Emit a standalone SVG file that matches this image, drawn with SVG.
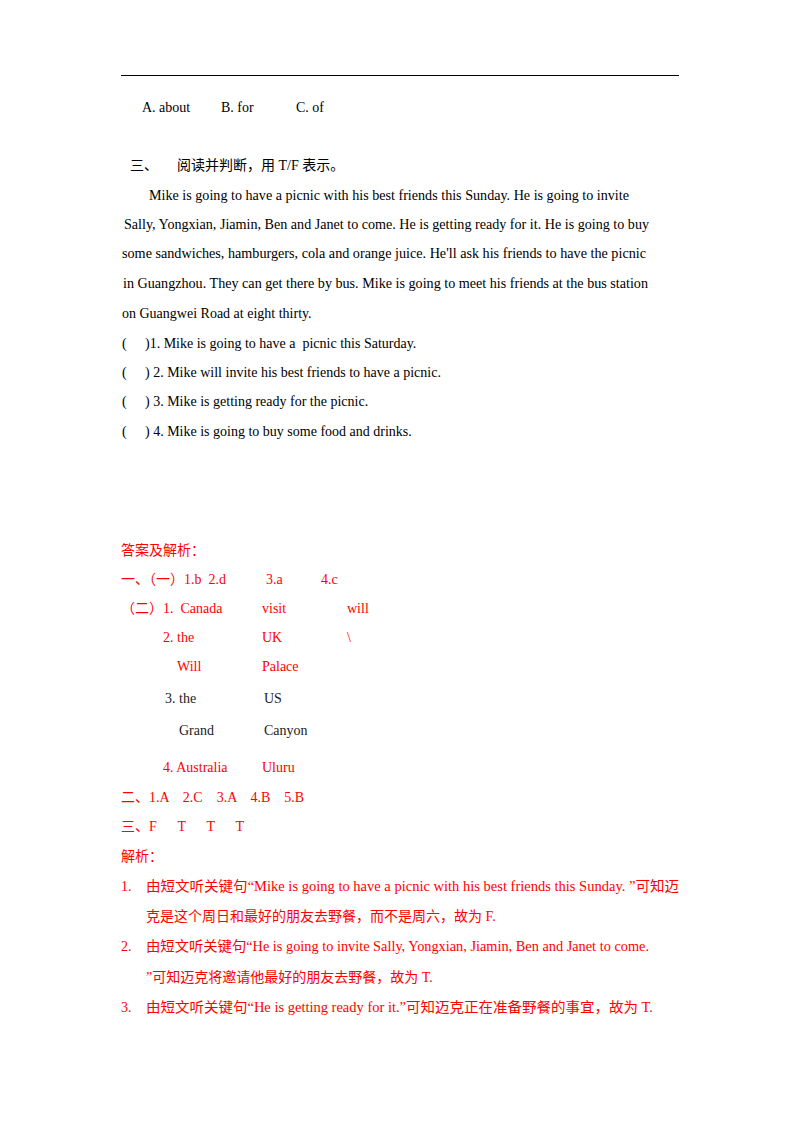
<svg xmlns="http://www.w3.org/2000/svg" width="800" height="1132" viewBox="0 0 800 1132" xml:space="preserve">
<style>
text{font-family:"Liberation Serif","Noto Sans CJK SC",serif;font-size:14px;fill:#000;white-space:pre}
.r{fill:#ff0000}
.k{fill:#222}
</style>
<rect width="800" height="1132" fill="#fff"/>
<line x1="121" y1="75.5" x2="679" y2="75.5" stroke="#000" stroke-width="1"/>
<text x="142" y="112">A. about</text>
<text x="221" y="112">B. for</text>
<text x="296" y="112">C. of</text>
<text x="130" y="170">三、</text>
<text x="177" y="170">阅读并判断，用 T/F 表示。</text>
<text x="149" y="200" textLength="480" lengthAdjust="spacingAndGlyphs">Mike is going to have a picnic with his best friends this Sunday. He is going to invite</text>
<text x="124" y="229" textLength="525" lengthAdjust="spacingAndGlyphs">Sally, Yongxian, Jiamin, Ben and Janet to come. He is getting ready for it. He is going to buy</text>
<text x="122" y="258" textLength="524" lengthAdjust="spacingAndGlyphs">some sandwiches, hamburgers, cola and orange juice. He'll ask his friends to have the picnic</text>
<text x="123" y="288" textLength="525" lengthAdjust="spacingAndGlyphs">in Guangzhou. They can get there by bus. Mike is going to meet his friends at the bus station</text>
<text x="122" y="318">on Guangwei Road at eight thirty.</text>
<text x="122" y="348">(</text><text x="145" y="348">)1. Mike is going to have a  picnic this Saturday.</text>
<text x="122" y="377">(</text><text x="145" y="377">) 2. Mike will invite his best friends to have a picnic.</text>
<text x="122" y="406">(</text><text x="145" y="406">) 3. Mike is getting ready for the picnic.</text>
<text x="122" y="436">(</text><text x="145" y="436">) 4. Mike is going to buy some food and drinks.</text>
<g class="ans">
<text class="r" x="121" y="555">答案及解析：</text>
<text class="r" x="121" y="584">一、（一）1.b  2.d</text>
<text class="r" x="266" y="584">3.a</text>
<text class="r" x="321" y="584">4.c</text>
<text class="r" x="121" y="613">（二）1.  Canada</text>
<text class="r" x="262" y="613">visit</text>
<text class="r" x="347" y="613">will</text>
<text class="r" x="163" y="642">2. the</text>
<text class="r" x="262" y="642">UK</text>
<text class="r" x="347" y="642">\</text>
<text class="r" x="177" y="671">Will</text>
<text class="r" x="262" y="671">Palace</text>
<text class="k" x="165" y="703">3. the</text>
<text class="k" x="264" y="703">US</text>
<text class="k" x="179" y="735">Grand</text>
<text class="k" x="264" y="735">Canyon</text>
<text class="r" x="163" y="772">4. Australia</text>
<text class="r" x="262" y="772">Uluru</text>
<text class="r" x="121" y="802">二、1.A    2.C    3.A    4.B    5.B</text>
<text class="r" x="121" y="831">三、F      T      T      T</text>
<text class="r" x="121" y="861">解析：</text>
<text class="r" x="121" y="891">1.</text>
<text class="r" x="146" y="891" textLength="533" lengthAdjust="spacingAndGlyphs">由短文听关键句“Mike is going to have a picnic with his best friends this Sunday. ”可知迈</text>
<text class="r" x="146" y="921">克是这个周日和最好的朋友去野餐，而不是周六，故为 F.</text>
<text class="r" x="121" y="951">2.</text>
<text class="r" x="146" y="951" textLength="503" lengthAdjust="spacingAndGlyphs">由短文听关键句“He is going to invite Sally, Yongxian, Jiamin, Ben and Janet to come.</text>
<text class="r" x="146" y="982">”可知迈克将邀请他最好的朋友去野餐，故为 T.</text>
<text class="r" x="121" y="1012">3.</text>
<text class="r" x="146" y="1012" textLength="507" lengthAdjust="spacingAndGlyphs">由短文听关键句“He is getting ready for it.”可知迈克正在准备野餐的事宜，故为 T.</text>
</g>
</svg>
